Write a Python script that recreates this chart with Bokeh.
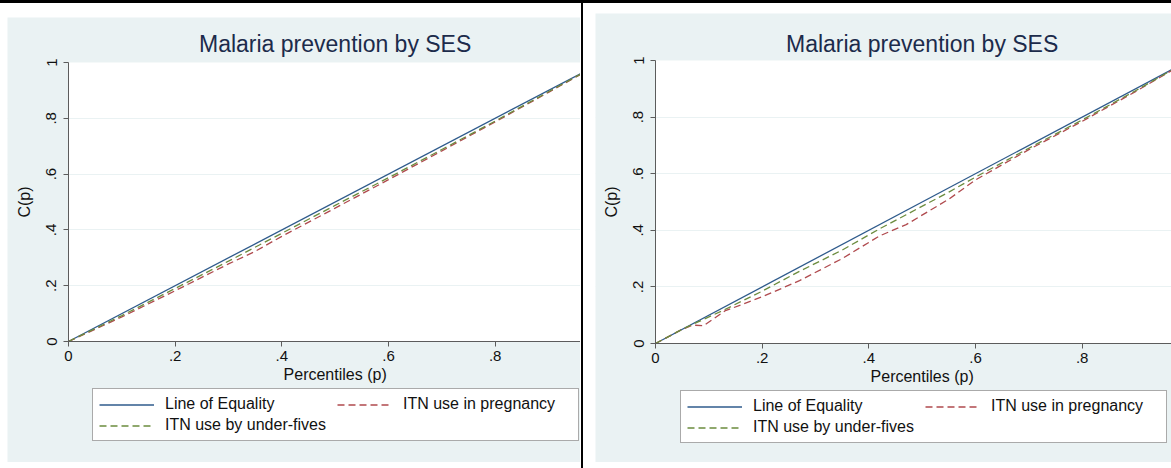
from bokeh.plotting import figure
from bokeh.models import Range1d, FixedTicker, Legend, LegendItem, Div, Label
from bokeh.layouts import row, column
from bokeh.embed import file_html
from bokeh.resources import INLINE

# ---------------- data ----------------
title_text = "Malaria prevention by SES"
x_title = "Percentiles (p)"
y_title = "C(p)"
legend_labels = ["Line of Equality", "ITN use in pregnancy", "ITN use by under-fives"]

x_ticks = [0, 0.2, 0.4, 0.6, 0.8]
x_tick_labels = ["0", ".2", ".4", ".6", ".8"]
y_ticks = [0, 0.2, 0.4, 0.6, 0.8, 1]
y_tick_labels = ["0", ".2", ".4", ".6", ".8", "1"]

eq_p = [0, 1]
eq_c = [0, 1]

# left panel
left_preg_p = [0, 0.1, 0.2, 0.3, 0.35, 0.4, 0.5, 0.6, 0.7, 0.8, 0.9, 1.0]
left_preg_c = [0, 0.088, 0.182, 0.278, 0.323, 0.377, 0.478, 0.580, 0.683, 0.787, 0.893, 1.0]
left_u5_p = [0, 0.1, 0.2, 0.3, 0.4, 0.5, 0.6, 0.7, 0.8, 0.9, 1.0]
left_u5_c = [0, 0.093, 0.190, 0.288, 0.388, 0.488, 0.587, 0.688, 0.790, 0.895, 1.0]

# right panel
right_preg_p = [0, 0.05, 0.07, 0.09, 0.13, 0.2, 0.27, 0.35, 0.42, 0.47, 0.55, 0.6, 0.7, 0.8, 0.9, 1.0]
right_preg_c = [0, 0.05, 0.065, 0.063, 0.115, 0.165, 0.222, 0.300, 0.380, 0.420, 0.510, 0.578, 0.685, 0.785, 0.890, 1.0]
right_u5_p = [0, 0.05, 0.07, 0.09, 0.13, 0.2, 0.27, 0.35, 0.42, 0.47, 0.55, 0.6, 0.7, 0.8, 0.9, 1.0]
right_u5_c = [0, 0.05, 0.068, 0.085, 0.120, 0.185, 0.255, 0.330, 0.405, 0.455, 0.535, 0.588, 0.690, 0.790, 0.893, 1.0]

# ---------------- style ----------------
FONT = "Liberation Sans"
BG = "#EAF2F3"
AXIS = "#5c5c5c"
TXT = "#111111"
TITLE_C = "#1c2b4b"
C_EQ = "#2f5b8c"
C_PREG = "#b04a4e"
C_U5 = "#6b8c3e"
PPU_X = 533.3            # horizontal pixels per unit of p
TITLE_SIZE = "23px"
TICK_SIZE = "15px"
LABEL_SIZE = "16px"


def panel(width, height, left_px, top_px, bottom_px, ppu_y, title_dy, preg_p, preg_c, u5_p, u5_c, leg_loc):
    x_lo = -left_px / PPU_X
    x_hi = (width - left_px) / PPU_X
    y_lo = -bottom_px / ppu_y
    y_hi = 1 + top_px / ppu_y
    p = figure(width=width, height=height, output_backend="svg", toolbar_location=None,
               title=None, x_range=Range1d(x_lo, x_hi), y_range=Range1d(y_lo, y_hi),
               min_border_left=0, min_border_right=0, min_border_top=0, min_border_bottom=0)
    p.background_fill_color = BG
    p.border_fill_color = BG
    p.outline_line_color = None

    # white plot region (0..1 x 0..1)
    p.quad(left=[0], right=[1], bottom=[0], top=[1], fill_color="white", line_color=None, level="image")

    r_eq = p.line(eq_p, eq_c, line_color=C_EQ, line_width=1.3)
    r_preg = p.line(preg_p, preg_c, line_color=C_PREG, line_width=1.3, line_dash="7 4")
    r_u5 = p.line(u5_p, u5_c, line_color=C_U5, line_width=1.3, line_dash="7 4")

    for ax in (p.xaxis[0], p.yaxis[0]):
        ax.fixed_location = 0
        ax.bounds = (0, 1)
        ax.axis_line_color = AXIS
        ax.major_tick_line_color = AXIS
        ax.major_tick_out = 5
        ax.major_tick_in = 0
        ax.minor_tick_line_color = None
        ax.major_label_text_font = FONT
        ax.major_label_text_font_size = TICK_SIZE
        ax.major_label_text_color = TXT

    p.xaxis.ticker = FixedTicker(ticks=x_ticks)
    p.xaxis.major_label_overrides = dict(zip(x_ticks, x_tick_labels))
    p.xaxis.major_label_standoff = 4
    p.yaxis.ticker = FixedTicker(ticks=y_ticks)
    p.yaxis.major_label_overrides = dict(zip(y_ticks, y_tick_labels))
    p.yaxis.major_label_orientation = "vertical"
    p.yaxis.major_label_standoff = 7
    p.yaxis.axis_label = y_title
    p.yaxis.axis_label_text_font = FONT
    p.yaxis.axis_label_text_font_size = LABEL_SIZE
    p.yaxis.axis_label_text_font_style = "normal"
    p.yaxis.axis_label_text_color = TXT
    p.yaxis.axis_label_standoff = 11

    p.xgrid.visible = False
    p.ygrid.ticker = FixedTicker(ticks=y_ticks[1:-1])
    p.ygrid.grid_line_color = BG
    p.ygrid.grid_line_width = 1

    p.add_layout(Label(x=0.5, y=1, y_offset=title_dy, text=title_text, text_align="center",
                       text_baseline="alphabetic", text_font=FONT, text_font_size=TITLE_SIZE,
                       text_color=TITLE_C))
    p.add_layout(Label(x=0.5, y=0, y_offset=-33, text=x_title, text_align="center",
                       text_baseline="alphabetic", text_font=FONT, text_font_size=LABEL_SIZE,
                       text_color=TXT))

    legend = Legend(items=[LegendItem(label=legend_labels[0], renderers=[r_eq]),
                           LegendItem(label=legend_labels[1], renderers=[r_preg]),
                           LegendItem(label=legend_labels[2], renderers=[r_u5])],
                    location=leg_loc, orientation="horizontal", ncols=2)
    legend.label_text_font = FONT
    legend.label_text_font_size = LABEL_SIZE
    legend.label_text_color = TXT
    legend.glyph_width = 55
    legend.glyph_height = 17
    legend.label_height = 17
    legend.label_width = 169
    legend.label_standoff = 11
    legend.spacing = 3
    legend.padding = 6
    legend.margin = 0
    legend.border_line_color = "#555555"
    legend.border_line_width = 1.2
    legend.background_fill_color = "white"
    legend.background_fill_alpha = 1
    p.add_layout(legend)
    return p


left = panel(573, 445, 61, 45, 121, 279, 19, left_preg_p, left_preg_c, left_u5_p, left_u5_c, (85, 21))
left.margin = (14, 0, 0, 7)
right = panel(576, 449, 60, 47, 119, 283, 17, right_preg_p, right_preg_c, right_u5_p, right_u5_c, (85, 19))
right.margin = (10, 0, 0, 12)

divider = Div(width=2, height=465, styles={"background-color": "black"})
divider.margin = (0, 0, 0, 1)
top_rule = Div(width=1171, height=3, styles={"background-color": "black"})
top_rule.margin = (0, 0, 0, 0)

layout = column(top_rule, row(left, divider, right))
open("out.html", "w").write(file_html(layout, INLINE))
